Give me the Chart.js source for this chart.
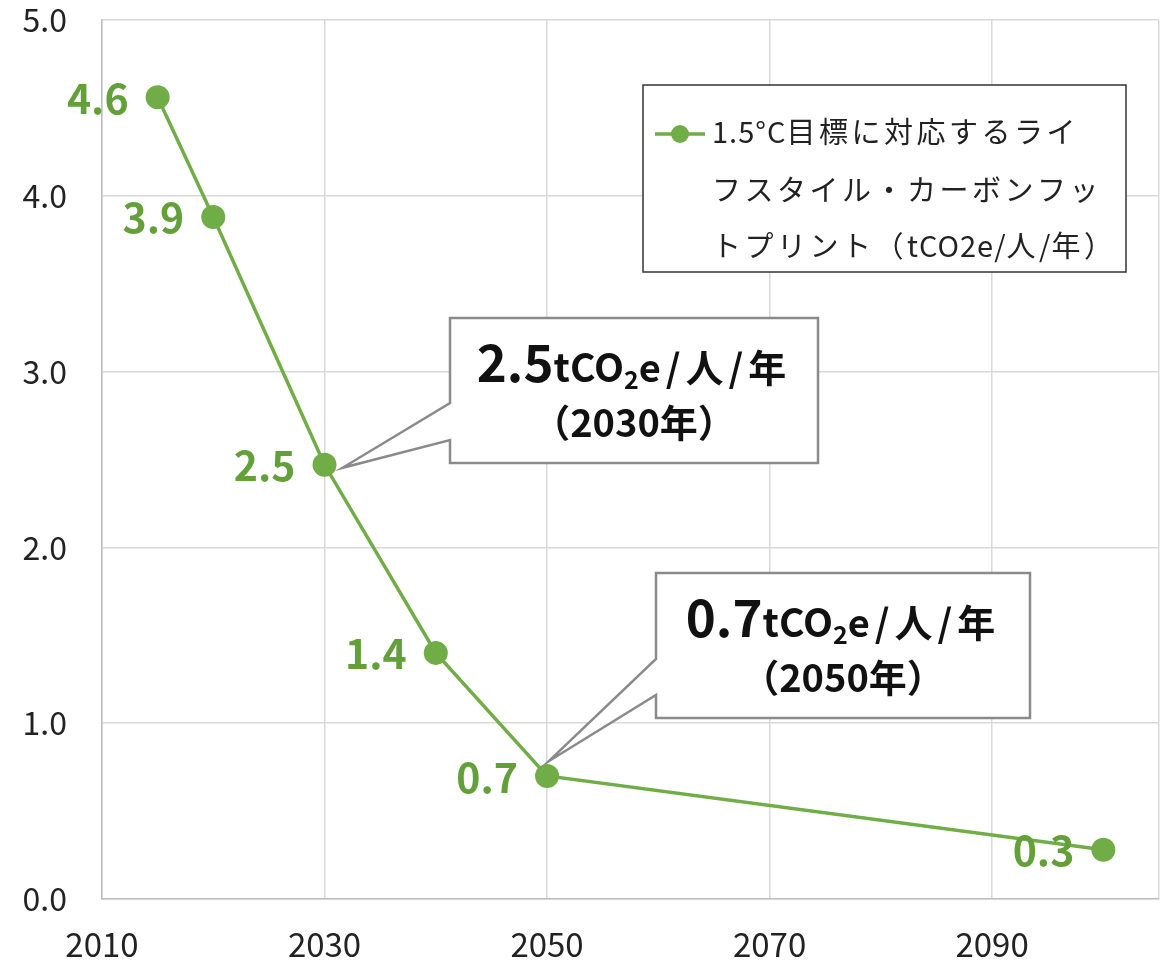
<!DOCTYPE html>
<html><head><meta charset="utf-8">
<script src="https://cdn.jsdelivr.net/npm/chart.js@4/dist/chart.umd.min.js"></script>
<style>html,body{margin:0;padding:0;background:#fff}#wrap{width:1171px;height:960px}</style>
</head><body><div id="wrap"><canvas id="c" width="1171" height="960"></canvas></div>
<script>
// ---- data ----
const years = [2015, 2020, 2030, 2040, 2050, 2100];
const footprint = [4.56, 3.88, 2.47, 1.40, 0.70, 0.28];
const xTickLabels = [2010, 2030, 2050, 2070, 2090];
const xAxisEnd = 2105;
const yTickValues = [0, 1, 2, 3, 4, 5];
const legendLines = ['1.5°C目標に対応するライ', 'フスタイル・カーボンフッ', 'トプリント（tCO2e/人/年）'];
const calloutIndex = [2, 4];
const calloutValue = ['2.5', '0.7'];
const calloutYear = ['（2030年）', '（2050年）'];

// ---- styles ----
const FONT = '"Noto Sans CJK JP", "Noto Sans", sans-serif';
const GREEN = '#70AD47';
const LABEL_GREEN = '#64A03A';

const calloutBoxes = [
  {l: 450, t: 318, r: 818, b: 463, j1: 403, j2: 440, dx: 18, dy: 3, base1: 382, base2: 437},
  {l: 656, t: 573, r: 1030, b: 718, j1: 659, j2: 695, dx: 2, dy: -15, base1: 637, base2: 692}
];

const dataLabelPlugin = {
  id: 'dataLabels',
  afterDatasetsDraw(chart) {
    const ctx = chart.ctx;
    const meta = chart.getDatasetMeta(0);
    ctx.save();
    ctx.font = 'bold 41px ' + FONT;
    ctx.fillStyle = LABEL_GREEN;
    ctx.textAlign = 'right';
    ctx.textBaseline = 'middle';
    meta.data.forEach((pt, i) => {
      ctx.fillText(footprint[i].toFixed(1), pt.x - 29, pt.y + 1);
    });
    ctx.restore();
  }
};

function drawRuns(ctx, runs, cx, baseline) {
  let total = 0;
  runs.forEach(r => {
    ctx.font = r.font; ctx.letterSpacing = r.ls || '0px';
    r.w = ctx.measureText(r.text).width; total += r.w;
  });
  let x = cx - total / 2;
  ctx.textAlign = 'left';
  ctx.textBaseline = 'alphabetic';
  runs.forEach(r => {
    ctx.font = r.font; ctx.letterSpacing = r.ls || '0px';
    ctx.fillText(r.text, x, baseline + (r.dy || 0)); x += r.w;
  });
  ctx.letterSpacing = '0px';
}

const calloutPlugin = {
  id: 'callouts',
  afterDraw(chart) {
    const ctx = chart.ctx;
    const meta = chart.getDatasetMeta(0);
    ctx.save();
    calloutBoxes.forEach((bx, k) => {
      const pt = meta.data[calloutIndex[k]];
      const tx = pt.x + bx.dx, ty = pt.y + bx.dy;
      ctx.beginPath();
      ctx.moveTo(bx.l, bx.t);
      ctx.lineTo(bx.r, bx.t);
      ctx.lineTo(bx.r, bx.b);
      ctx.lineTo(bx.l, bx.b);
      ctx.lineTo(bx.l, bx.j2);
      ctx.lineTo(tx, ty);
      ctx.lineTo(bx.l, bx.j1);
      ctx.closePath();
      ctx.fillStyle = '#ffffff';
      ctx.fill();
      ctx.strokeStyle = '#8a8a8a';
      ctx.lineWidth = 2.5;
      ctx.lineJoin = 'miter';
      ctx.stroke();
      ctx.fillStyle = '#111111';
      const cx = (bx.l + bx.r) / 2;
      drawRuns(ctx, [
        {text: calloutValue[k], font: 'bold 51px ' + FONT},
        {text: 'tCO', font: 'bold 39px ' + FONT},
        {text: '2', font: 'bold 25px ' + FONT, dy: 7},
        {text: 'e/人/年', font: 'bold 38px ' + FONT, ls: '5px'}
      ], cx, bx.base1);
      drawRuns(ctx, [{text: calloutYear[k], font: 'bold 38px ' + FONT}], cx, bx.base2);
    });
    ctx.restore();
  }
};

function drawSpaced(ctx, s, x, y) {
  // ASCII runs get tight spacing, CJK runs wider spacing
  const parts = s.match(/[\x20-\x7E°]+|[^\x20-\x7E°]+/g) || [];
  parts.forEach(p => {
    const ascii = /^[\x20-\x7E°]+$/.test(p);
    ctx.letterSpacing = ascii ? '1px' : '3.5px';
    ctx.fillText(p, x, y);
    x += ctx.measureText(p).width;
  });
  ctx.letterSpacing = '0px';
}

const legendPlugin = {
  id: 'customLegend',
  afterDraw(chart) {
    const ctx = chart.ctx;
    ctx.save();
    ctx.fillStyle = '#fff';
    ctx.fillRect(643, 85, 483, 187);
    ctx.strokeStyle = '#333';
    ctx.lineWidth = 1.5;
    ctx.strokeRect(643, 85, 483, 187);
    ctx.strokeStyle = GREEN;
    ctx.lineWidth = 3.5;
    ctx.beginPath(); ctx.moveTo(655, 134); ctx.lineTo(705, 134); ctx.stroke();
    ctx.fillStyle = GREEN;
    ctx.beginPath(); ctx.arc(680, 134, 9, 0, Math.PI * 2); ctx.fill();
    ctx.fillStyle = '#222';
    ctx.font = '29px ' + FONT;
    ctx.textAlign = 'left';
    ctx.textBaseline = 'middle';
    const ys = [132, 190, 246];
    legendLines.forEach((s, i) => drawSpaced(ctx, s, 712, ys[i]));
    ctx.restore();
  }
};

function fixAxis(w, h) {
  return function (s) {
    if (w !== null) s.width = w;
    if (h !== null) s.height = h;
    s.paddingTop = 0; s.paddingBottom = 0; s.paddingLeft = 0; s.paddingRight = 0;
  };
}

new Chart(document.getElementById('c').getContext('2d'), {
  type: 'line',
  data: {
    datasets: [{
      label: legendLines.join(''),
      data: years.map((x, i) => ({x: x, y: footprint[i]})),
      borderColor: GREEN,
      backgroundColor: GREEN,
      borderWidth: 3.5,
      pointRadius: 12,
      pointHoverRadius: 12,
      pointBorderWidth: 0,
      pointBackgroundColor: GREEN,
      tension: 0
    }]
  },
  options: {
    responsive: false,
    animation: false,
    events: [],
    layout: {padding: {top: 20, right: 12, left: 0, bottom: 0}},
    plugins: {legend: {display: false}, tooltip: {enabled: false}},
    scales: {
      x: {
        type: 'linear', min: xTickLabels[0], max: xAxisEnd,
        afterFit: fixAxis(null, 61),
        afterBuildTicks(s) { s.ticks = xTickLabels.concat([xAxisEnd]).map(v => ({value: v})); },
        ticks: {
          callback: (v) => xTickLabels.includes(v) ? String(v) : '',
          padding: 26, maxRotation: 0, autoSkip: false,
          font: {family: FONT, size: 33}, color: '#222'
        },
        grid: {color: '#d9d9d9', lineWidth: 1.5, drawTicks: false},
        border: {color: '#bfbfbf', width: 1.5}
      },
      y: {
        min: 0, max: 5,
        afterFit: fixAxis(102, null),
        afterBuildTicks(s) { s.ticks = yTickValues.map(v => ({value: v})); },
        ticks: {
          callback: (v) => Number(v).toFixed(1),
          padding: 35,
          font: {family: FONT, size: 32}, color: '#222'
        },
        grid: {color: '#d9d9d9', lineWidth: 1.5, drawTicks: false},
        border: {color: '#bfbfbf', width: 1.5}
      }
    }
  },
  plugins: [dataLabelPlugin, calloutPlugin, legendPlugin]
});
</script>
</body></html>
